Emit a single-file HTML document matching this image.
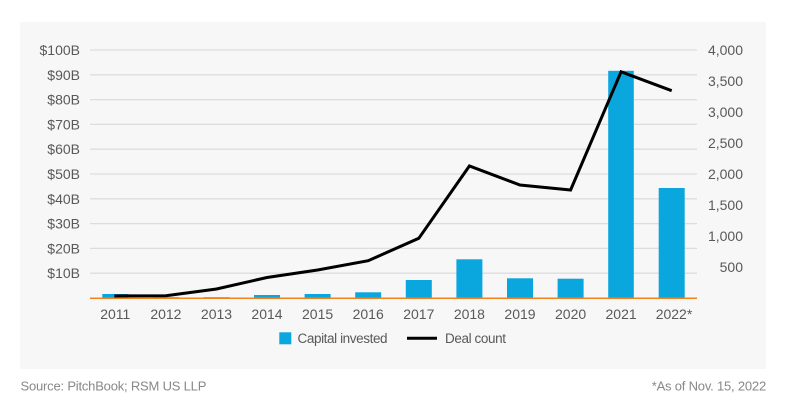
<!DOCTYPE html>
<html><head><meta charset="utf-8"><style>
html,body{margin:0;padding:0;background:#fff;}
svg{display:block;}
text{font-family:"Liberation Sans",Arial,sans-serif;}
</style></head><body>
<svg width="786" height="410" viewBox="0 0 786 410" xmlns="http://www.w3.org/2000/svg">
<rect x="20" y="22" width="746" height="347" fill="#f7f7f7"/>
<g stroke="#dddddd" stroke-width="1.3">
<line x1="90" x2="697" y1="50" y2="50"/>
<line x1="90" x2="697" y1="74.8" y2="74.8"/>
<line x1="90" x2="697" y1="99.6" y2="99.6"/>
<line x1="90" x2="697" y1="124.4" y2="124.4"/>
<line x1="90" x2="697" y1="149.2" y2="149.2"/>
<line x1="90" x2="697" y1="174" y2="174"/>
<line x1="90" x2="697" y1="198.8" y2="198.8"/>
<line x1="90" x2="697" y1="223.6" y2="223.6"/>
<line x1="90" x2="697" y1="248.4" y2="248.4"/>
<line x1="90" x2="697" y1="273.2" y2="273.2"/>
</g>
<g fill="#595959" font-size="14" text-anchor="end">
<text x="80" y="55">$100B</text>
<text x="80" y="79.8">$90B</text>
<text x="80" y="104.6">$80B</text>
<text x="80" y="129.4">$70B</text>
<text x="80" y="154.2">$60B</text>
<text x="80" y="179">$50B</text>
<text x="80" y="203.8">$40B</text>
<text x="80" y="228.6">$30B</text>
<text x="80" y="253.4">$20B</text>
<text x="80" y="278.2">$10B</text>
<text x="743" y="55">4,000</text>
<text x="743" y="86">3,500</text>
<text x="743" y="117">3,000</text>
<text x="743" y="148">2,500</text>
<text x="743" y="179">2,000</text>
<text x="743" y="210">1,500</text>
<text x="743" y="241">1,000</text>
<text x="743" y="272">500</text>
</g>
<g fill="#0aa6de">
<rect x="102.3" y="294" width="26" height="4.3"/>
<rect x="152.9" y="297" width="26" height="1.3" fill="#6cc4e6"/>
<rect x="203.5" y="297" width="26" height="1.3" fill="#6cc4e6"/>
<rect x="254" y="295" width="26" height="3.3"/>
<rect x="304.6" y="294" width="26" height="4.3"/>
<rect x="355.2" y="292.3" width="26" height="6"/>
<rect x="405.8" y="280" width="26" height="18.3"/>
<rect x="456.4" y="259.3" width="26" height="39"/>
<rect x="507" y="278.3" width="26" height="20"/>
<rect x="557.6" y="278.7" width="26" height="19.6"/>
<rect x="608.2" y="70.8" width="25.6" height="227.5"/>
<rect x="658.7" y="188" width="26" height="110.3"/>
</g>
<line x1="90" x2="697" y1="298.3" y2="298.3" stroke="#f5821f" stroke-width="1.5"/>
<polyline fill="none" stroke="#000" stroke-width="3" stroke-linejoin="miter" points="114.3,296 165.9,295.7 216.5,289 267,277.5 317.6,270 368.2,260.7 418.8,238.3 469.4,166 520,185 570.6,190 621.1,71.8 671.7,90.7"/>
<g fill="#595959" font-size="14" text-anchor="middle">
<text x="115.3" y="319">2011</text>
<text x="165.9" y="319">2012</text>
<text x="216.5" y="319">2013</text>
<text x="267" y="319">2014</text>
<text x="317.6" y="319">2015</text>
<text x="368.2" y="319">2016</text>
<text x="418.8" y="319">2017</text>
<text x="469.4" y="319">2018</text>
<text x="520" y="319">2019</text>
<text x="570.6" y="319">2020</text>
<text x="621.1" y="319">2021</text>
<text x="674" y="319">2022*</text>
</g>
<rect x="279.3" y="332.3" width="12" height="12" fill="#0aa6de"/>
<text x="297.5" y="343" fill="#595959" font-size="13.5" letter-spacing="-0.4">Capital invested</text>
<line x1="407" x2="437" y1="338.3" y2="338.3" stroke="#000" stroke-width="3"/>
<text x="445" y="343" fill="#595959" font-size="13.5" letter-spacing="-0.4">Deal count</text>
<text x="20.5" y="390.5" fill="#888" font-size="13" letter-spacing="-0.2">Source: PitchBook; RSM US LLP</text>
<text x="766" y="390.5" fill="#888" font-size="13" text-anchor="end" letter-spacing="-0.2">*As of Nov. 15, 2022</text>
</svg>
</body></html>
